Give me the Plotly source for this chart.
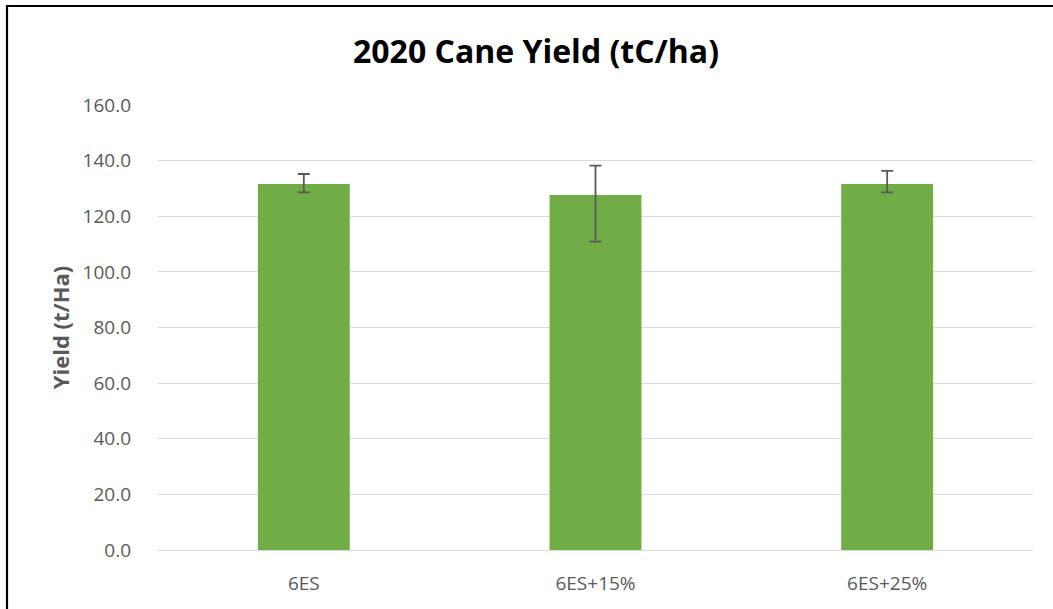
import plotly.graph_objects as go

categories = ["6ES", "6ES+15%", "6ES+25%"]
yield_values = [131.6, 127.6, 131.6]
err_plus = [3.6, 10.6, 4.7]
err_minus = [3.0, 16.7, 3.0]
y_ticks = [0, 20, 40, 60, 80, 100, 120, 140, 160]
y_tick_labels = [f"{v:.1f}" for v in y_ticks]

W, H = 1053, 609
L, R, T, B = 158, 20, 105, 59
pw, ph = W - L - R, H - T - B
FONT = "Open Sans, Lato, sans-serif"

fig = go.Figure()
fig.add_trace(go.Bar(
    x=categories, y=yield_values, width=0.315,
    marker=dict(color="#70ad47", line=dict(width=0)),
    error_y=dict(type="data", symmetric=False, array=err_plus, arrayminus=err_minus,
                 color="#595959", thickness=1.8, width=6),
))

fig.update_layout(
    width=W, height=H,
    margin=dict(l=L, r=R, t=T, b=B),
    paper_bgcolor="white", plot_bgcolor="white",
    font=dict(family=FONT, color="#595959", size=19),
    title=dict(text="<b>2020 Cane Yield (tC/ha)</b>", x=(536 - L) / pw, xref="paper", xanchor="center",
               y=1 - 52 / H, yanchor="middle",
               font=dict(size=32, color="#000000", family=FONT)),
    showlegend=False,
    shapes=[dict(type="rect", xref="paper", yref="paper",
                 x0=(7 - L) / pw, x1=1 + (R + 20) / pw,
                 y0=-(B + 20) / ph, y1=1 + (T - 6) / ph,
                 line=dict(color="#000000", width=2.2), fillcolor="rgba(0,0,0,0)", layer="above")],
)
fig.update_yaxes(
    range=[0, 160], tickvals=y_ticks, ticktext=y_tick_labels,
    showgrid=True, gridcolor="#d9d9d9", gridwidth=1.2, zeroline=False,
    showline=False, ticks="", ticklabelstandoff=26,
    tickfont=dict(size=19, color="#595959", family=FONT),
    title=dict(text="<b>Yield (t/Ha)</b>", font=dict(size=22, color="#595959", family=FONT), standoff=6),
)
fig.update_xaxes(
    showline=True, linecolor="#d9d9d9", linewidth=1.2, showgrid=False, ticks="",
    tickfont=dict(size=19, color="#595959", family=FONT), ticklabelstandoff=16,
)

fig.write_html("out.html", config={"displayModeBar": False},
               post_script="document.body.style.margin='0';document.body.style.overflow='hidden';")
